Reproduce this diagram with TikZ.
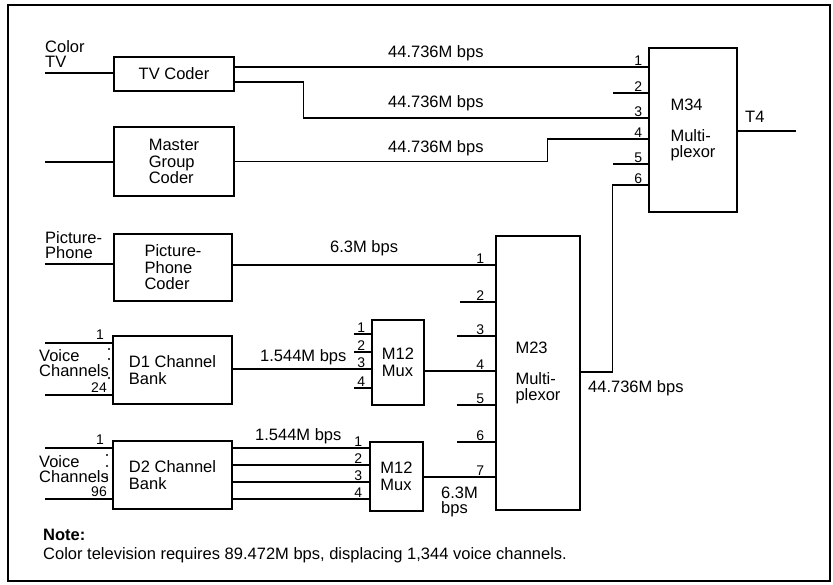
\documentclass[tikz,border=0pt]{standalone}
\usepackage{fontspec}
\setmainfont{Liberation Sans}
\usetikzlibrary{positioning}

\begin{document}
\begin{tikzpicture}[x=1pt, y=-1pt,
      unit/.style={draw, line width=1.4pt, inner sep=0pt, align=left, font=\fontsize{16.5}{16.5}\selectfont},
      lbl/.style={inner sep=0pt, align=left, anchor=west, font=\fontsize{16.5}{15}\selectfont},
      port/.style={inner sep=0pt, anchor=south east, font=\fontsize{14}{13}\selectfont},
      wire/.style={line width=1.4pt}
    ]
      \useasboundingbox (0,0) rectangle (833,584);
      \draw[line width=2.6pt] (8,5) rectangle (830,581);

      % Coders and channel banks
      \node[unit, minimum width=120, minimum height=34] (tvc) at (174,74) {TV Coder};
      \node[unit, minimum width=120, minimum height=69] (mgc) at (174,161.5) {Master\\Group\\Coder};
      \node[unit, minimum width=118, minimum height=67] (ppc) at (173,267.5) {Picture-\\Phone\\Coder};
      \node[unit, minimum width=119, minimum height=68] (d1) at (172.5,370) {D1 Channel\\Bank};
      \node[unit, minimum width=119, minimum height=68] (d2) at (172.5,475) {D2 Channel\\Bank};

      % Multiplexors
      \node[unit, minimum width=52, minimum height=85] (m12a) at (398,362.5) {M12\\Mux};
      \node[unit, minimum width=53, minimum height=69] (m12b) at (396.5,476.5) {M12\\Mux};
      \node[unit, minimum width=84, minimum height=274] (m23) at (538,373) {M23\\[14pt]Multi-\\plexor};
      \node[unit, minimum width=88, minimum height=164] (m34) at (693,130) {M34\\[14pt]Multi-\\plexor};

      % Input ports
      \foreach \n/\y in {1/67,2/93,3/118,4/139,5/164,6/185} {
        \coordinate (m34-\n) at (m34.west |- 0,\y);
        \node[port] at ([xshift=-6pt,yshift=1.5pt]m34-\n) {\n};
      }
      \foreach \n/\y in {1/265,2/302,3/336,4/371,5/405,6/442,7/477} {
        \coordinate (m23-\n) at (m23.west |- 0,\y);
        \node[port] at ([xshift=-11pt,yshift=1.5pt]m23-\n) {\n};
      }
      \foreach \n/\y in {1/334,2/352,3/369,4/388} {
        \coordinate (m12a-\n) at (m12a.west |- 0,\y);
        \node[port] at ([xshift=-6pt,yshift=1pt]m12a-\n) {\n};
      }
      \foreach \n/\y in {1/448,2/465,3/482,4/499} {
        \coordinate (m12b-\n) at (m12b.west |- 0,\y);
        \node[port] at ([xshift=-7pt,yshift=1pt]m12b-\n) {\n};
      }

      % Unused ports
      \foreach \p in {m34-2,m34-5} \draw[wire] (\p) -- ++(-35,0);
      \draw[wire] (m23-2) -- ++(-35,0);
      \foreach \p in {m23-3,m23-5,m23-6} \draw[wire] (\p) -- ++(-38,0);
      \foreach \p in {m12a-1,m12a-2,m12a-4} \draw[wire] (\p) -- ++(-17,0);

      % Sources
      \coordinate (ctv) at (45,73);
      \coordinate (mgin) at (45,162);
      \coordinate (ppin) at (45,264);
      \coordinate (d1a) at (45,343);
      \coordinate (d1b) at (45,395);
      \coordinate (d2a) at (45,448);
      \coordinate (d2b) at (45,499);
      \foreach \c/\b in {ctv/tvc,mgin/mgc,ppin/ppc,d1a/d1,d1b/d1,d2a/d2,d2b/d2}
        \draw[wire] (\c) -- (\c -| \b.west);

      \node[lbl] at (45,54) {Color\\TV};
      \node[lbl] at (45,245) {Picture-\\Phone};
      \node[lbl] at (39,363) {Voice\\Channels};
      \node[lbl] at (39,469) {Voice\\Channels};
      \node[port] at (104,340) {1};
      \node[port] at (107,393) {24};
      \node[port] at (104,445) {1};
      \node[port] at (107,497) {96};
      \foreach \y in {349,359,378} \fill (109,\y) circle (1.2pt);
      \foreach \y in {455,466,477} \fill (107,\y) circle (1.2pt);

      % Connections
      \draw[wire] (tvc.east |- m34-1) -- (m34-1);
      \draw[wire] (tvc.east |- 0,82) -- ++(69,0) |- (m34-3);
      \draw[wire] (mgc.east) -- ++(313,0) |- (m34-4);
      \draw[wire] (ppc.east |- m23-1) -- (m23-1);
      \draw[wire] (d1.east |- m12a-3) -- (m12a-3);
      \draw[wire] (m12a.east |- m23-4) -- (m23-4);
      \foreach \n in {1,...,4} \draw[wire] (d2.east |- m12b-\n) -- (m12b-\n);
      \draw[wire] (m12b.east |- m23-7) -- (m23-7);
      \draw[wire] (m23.east |- 0,372) -- ++(32,0) |- (m34-6);
      \coordinate (t4) at (796,131);
      \draw[wire] (m34.east |- t4) -- (t4);

      % Rates
      \node[lbl] at (388,53) {44.736M bps};
      \node[lbl] at (388,103) {44.736M bps};
      \node[lbl] at (388,148) {44.736M bps};
      \node[lbl] at (330,248) {6.3M bps};
      \node[lbl] at (260,357) {1.544M bps};
      \node[lbl] at (255,436) {1.544M bps};
      \node[lbl] at (441,502) {6.3M\\bps};
      \node[lbl] at (588,388) {44.736M bps};
      \node[lbl] at (745,117) {T4};

      % Note
      \node[lbl] at (43,535) {\bfseries Note:};
      \node[lbl] at (43,555) {Color television requires 89.472M bps, displacing 1,344 voice channels.};
    \end{tikzpicture}
\end{document}
